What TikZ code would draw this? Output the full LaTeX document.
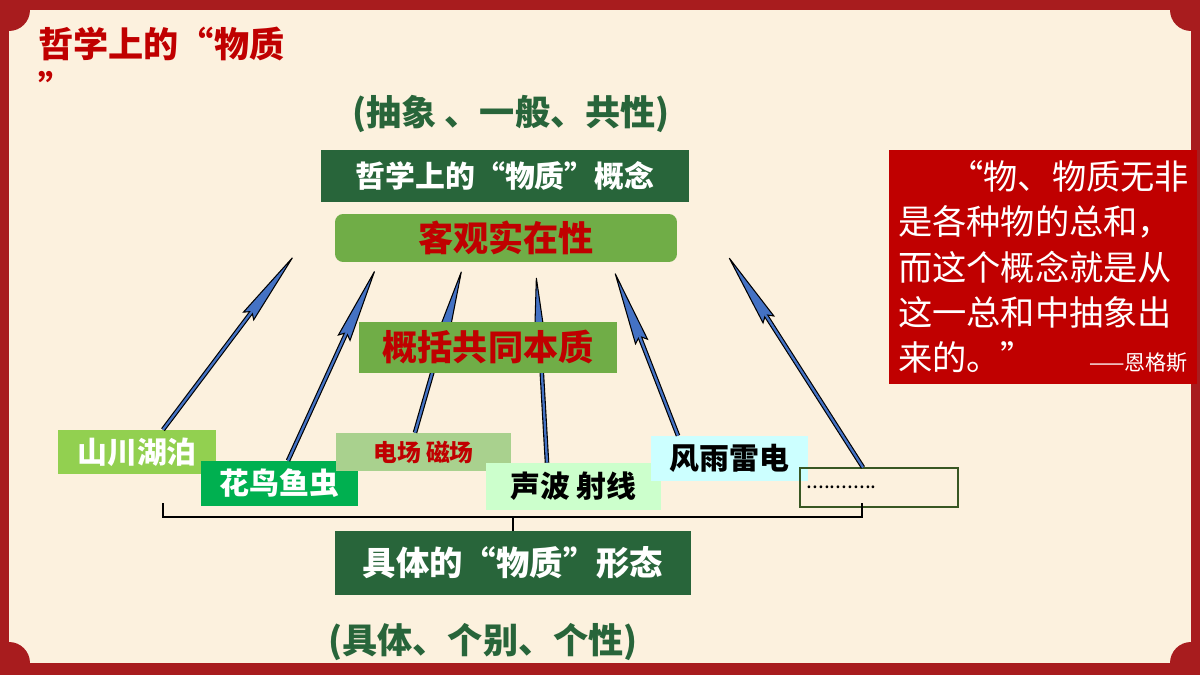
\documentclass[tikz,border=0pt]{standalone}
\usepackage{fontspec}
\setmainfont{Noto Sans CJK SC}
\usepackage{tikz}
\usetikzlibrary{arrows.meta, positioning, calc}
\definecolor{cFrame}{RGB}{168,28,30}
\definecolor{cCream}{RGB}{252,241,222}
\definecolor{cDark}{RGB}{40,101,58}
\definecolor{cMid}{RGB}{112,173,71}
\definecolor{cRed}{RGB}{192,0,0}
\definecolor{cLeaf}{RGB}{146,208,80}
\definecolor{cGrass}{RGB}{0,176,80}
\definecolor{cSage}{RGB}{169,209,142}
\definecolor{cMint}{RGB}{204,255,204}
\definecolor{cSky}{RGB}{204,255,255}
\definecolor{cArrow}{RGB}{68,114,196}
\definecolor{cLine}{RGB}{56,87,35}
\tikzset{
	darkbox/.style={rectangle, fill=cDark, text=white, inner sep=0pt, font=\bfseries\fontsize{17}{20}\selectfont},
	keybox/.style ={rectangle, fill=cMid, text=cRed, inner sep=0pt, font=\bfseries\fontsize{20}{24}\selectfont},
	formbox/.style={rectangle, inner sep=0pt, minimum width=3.14cm, minimum height=0.9cm, font=\bfseries\fontsize{17}{20}\selectfont},
	pointer/.style={draw=black, line width=2.6pt, -{Stealth[length=1.6cm, width=0.28cm, inset=0.12cm, fill=cArrow, line width=0.6pt]},
		postaction={draw=cArrow, line width=1.3pt, shorten >=1.45cm, -}},
	bracket/.style={draw=black, line width=1.4pt},
	% text lines in brackets
	traits/.style={font=\bfseries\fontsize{20}{22}\selectfont, text=cDark, inner sep=0pt},
}

\begin{document}
\begin{tikzpicture}[x=0.02cm, y=-0.02cm]
	\useasboundingbox (0,0) rectangle (1200,675);
	\fill[cFrame] (0,0) rectangle (1200,675);
	\fill[cCream] (9,10) rectangle (1191,663);
	\foreach \cx/\cy in {9/10, 1191/10, 9/663, 1191/663}
		\fill[cFrame] (\cx,\cy) circle (0.42cm);

	\node[anchor=north west, align=left, text=cRed, font=\bfseries\fontsize{20}{25}\selectfont, inner sep=0pt] (title) at (38,27) {哲学上的“物质\\”};

	\node[traits] (abstr) at (511,114) {(抽象 、一般、共性)};
	\node[darkbox, minimum width=7.38cm, minimum height=1.04cm] (concept) at (505,176) {哲学上的“物质”概念};
	\node[keybox, rounded corners=0.16cm, minimum width=6.84cm, minimum height=0.96cm] (objective) at (506,238) {客观实在性};

	\node[formbox, fill=cLeaf, text=white, minimum width=3.16cm, minimum height=0.88cm] (shan) at (137,452) {山川湖泊};
	\node[formbox, fill=cGrass, text=white] (hua) at (279.5,483.5) {花鸟鱼虫};
	\node[formbox, fill=cSage, text=cRed, minimum width=3.5cm, minimum height=0.76cm, font=\bfseries\fontsize{13.5}{16}\selectfont] (dian) at (423.5,452) {电场 磁场};
	\node[formbox, fill=cMint, text=black, minimum width=3.5cm, minimum height=0.94cm] (sheng) at (573.5,486.5) {声波 射线};
	\node[formbox, fill=cSky, text=black] (feng) at (729.5,458.5) {风雨雷电};
	\node[formbox, draw=cLine, line width=0.6pt, minimum width=3.16cm, minimum height=0.78cm, text width=2.9cm, align=left, font=\fontsize{12}{14}\selectfont] (more) at (879,487.5) {............};

	\foreach \i/\src/\dx/\tx/\ty in {1/shan/26/296/253, 2/hua/8.5/377/266, 3/dian/-8.5/463/266, 4/sheng/-26.5/536/272, 5/feng/-51.5/613/268, 6/more/-16/726/253} {
		\coordinate (t\i) at (\tx,\ty);
		\draw[pointer] ($(\src.north)+(\dx,0)$) -- (t\i);
	}

	\node[keybox, minimum width=5.16cm, minimum height=1.02cm] (common) at (488,347.5) {概括共同本质};

	\coordinate (bl) at (163,503);
	\coordinate (br) at (862,503);
	\draw[bracket] (bl) -- ++(0,14) -| (br);
	\node[darkbox, minimum width=7.12cm, minimum height=1.28cm, font=\bfseries\fontsize{19}{22}\selectfont] (forms) at (513,563) {具体的“物质”形态};
	\draw[bracket] (forms.north) -- ++(0,-14);
	\node[traits] (concrete) at (483,642) {(具体、个别、个性)};

	\node[rectangle, fill=cRed, text=white, minimum width=6.16cm, minimum height=4.68cm, text width=5.8cm, align=left, inner sep=0pt, font=\fontsize{19.5}{25.8}\selectfont] (quote) at (1043,267)
		{\hspace*{1.5em}“物、物质无非\\是各种物的总和，\\而这个概念就是从\\这一总和中抽象出\\来的。” \hfill{\fontsize{12}{14}\selectfont ——恩格斯}};
\end{tikzpicture}
\end{document}
